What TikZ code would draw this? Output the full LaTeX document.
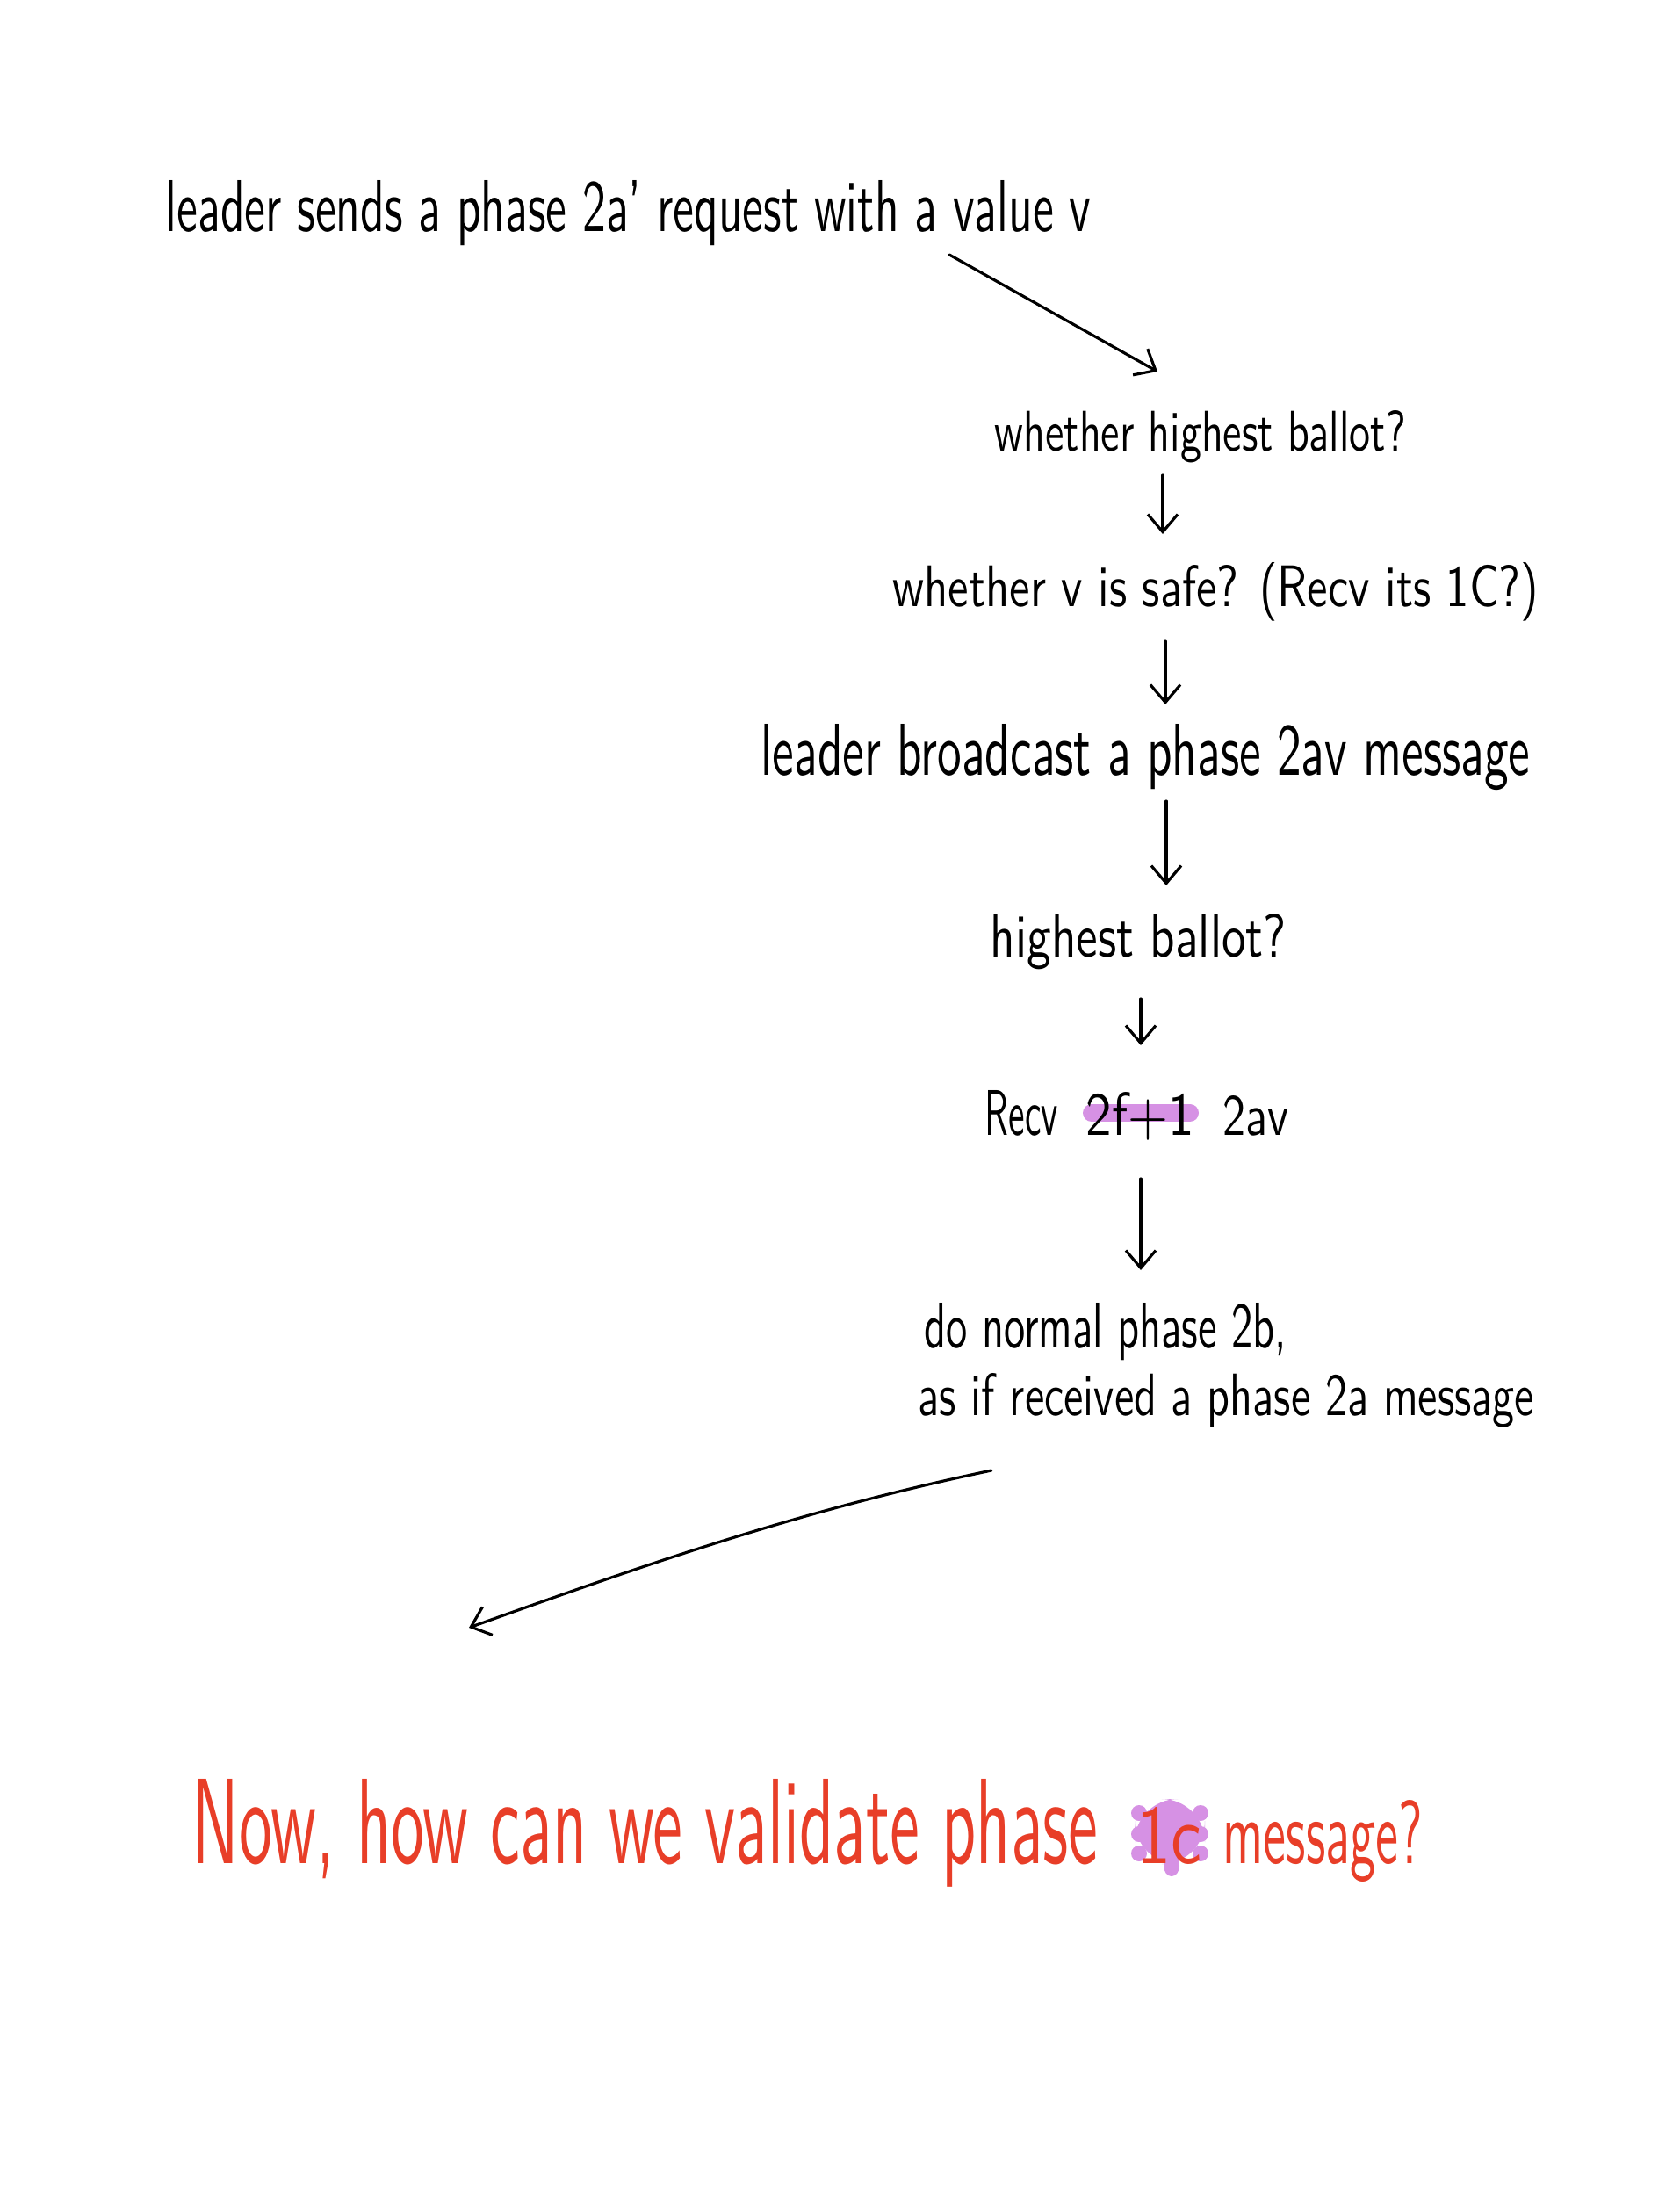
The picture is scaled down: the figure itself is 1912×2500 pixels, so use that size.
\documentclass[tikz,border=0pt]{standalone}
\usepackage{fontspec}
\usepackage{graphicx}
\usetikzlibrary{arrows.meta}
\definecolor{hlpurple}{RGB}{214,145,228}
\definecolor{inkred}{RGB}{232,62,40}
\begin{document}
\begin{tikzpicture}[x=0.01cm,y=-0.01cm,
  txt/.style={anchor=base west, inner sep=0pt, font=\sffamily},
  arr/.style={-{Straight Barb[length=0.2cm,width=0.34cm]}, line width=0.9pt, line cap=round, line join=round},
  hl/.style={line width=0.2cm, line cap=round, draw=hlpurple}]
\fill[white] (0,0) rectangle (1912,2500);
\useasboundingbox (0,0) rectangle (1912,2500);
% highlights
\draw[hl] (1243,1267) -- (1355,1267);
\fill[hlpurple, rounded corners=14] (1292,2048) rectangle (1372,2122);
\foreach \yy in {2064,2088,2110}{
  \fill[hlpurple] (1297,\yy) circle[radius=9];
  \fill[hlpurple] (1367,\yy) circle[radius=9];
}
\fill[hlpurple] (1334,2124) ellipse[x radius=9, y radius=12];
% texts
\node[txt] (t1) at (188,263) {\resizebox{10.53cm}{0.58cm}{leader sends a phase 2a' request with a value v}};
\node[txt] (t2) at (1132,513) {\resizebox{4.68cm}{0.46cm}{whether highest ballot?}};
\node[txt] (t3) at (1016,690) {\resizebox{7.35cm}{0.50cm}{whether v is safe? (Recv its 1C?)}};
\node[txt] (t4) at (866,882) {\resizebox{8.75cm}{0.58cm}{leader broadcast a phase 2av message}};
\node[txt] (t5) at (1127,1089) {\resizebox{3.37cm}{0.49cm}{highest ballot?}};
\node[txt] (t6a) at (1121,1292) {\resizebox{0.83cm}{0.51cm}{Recv}};
\node[txt] (t6b) at (1236,1292) {\resizebox{1.23cm}{0.49cm}{2f+1}};
\node[txt] (t6c) at (1392,1292) {\resizebox{0.75cm}{0.45cm}{2av}};
\node[txt] (t7) at (1052,1534) {\resizebox{4.12cm}{0.51cm}{do normal phase 2b,}};
\node[txt] (t8) at (1045,1611) {\resizebox{7.01cm}{0.48cm}{as if received a phase 2a message}};
\node[txt, text=inkred] (t9a) at (218,2121) {\resizebox{10.31cm}{0.96cm}{Now, how can we validate phase}};
\node[txt, text=inkred] (t9b) at (1294,2121) {\resizebox{0.74cm}{0.64cm}{1c}};
\node[txt, text=inkred] (t9c) at (1392,2121) {\resizebox{2.27cm}{0.72cm}{message?}};
% connectors
\coordinate (a1s) at (1081,290); \coordinate (a1e) at (1318,423);
\coordinate (a2s) at (1324,541); \coordinate (a2e) at (1324,608);
\coordinate (a3s) at (1327,730); \coordinate (a3e) at (1327,802);
\coordinate (a4s) at (1328,912); \coordinate (a4e) at (1328,1008);
\coordinate (a5s) at (1299,1137); \coordinate (a5e) at (1299,1190);
\coordinate (a6s) at (1299,1342); \coordinate (a6e) at (1299,1446);
\coordinate (a7s) at (1129,1674); \coordinate (a7e) at (534,1853);
\draw[arr] (a1s) -- (a1e);
\draw[arr] (a2s) -- (a2e);
\draw[arr] (a3s) -- (a3e);
\draw[arr] (a4s) -- (a4e);
\draw[arr] (a5s) -- (a5e);
\draw[arr] (a6s) -- (a6e);
\draw[arr] (a7s) .. controls (920,1718) and (760,1772) .. (a7e);
\end{tikzpicture}
\end{document}
